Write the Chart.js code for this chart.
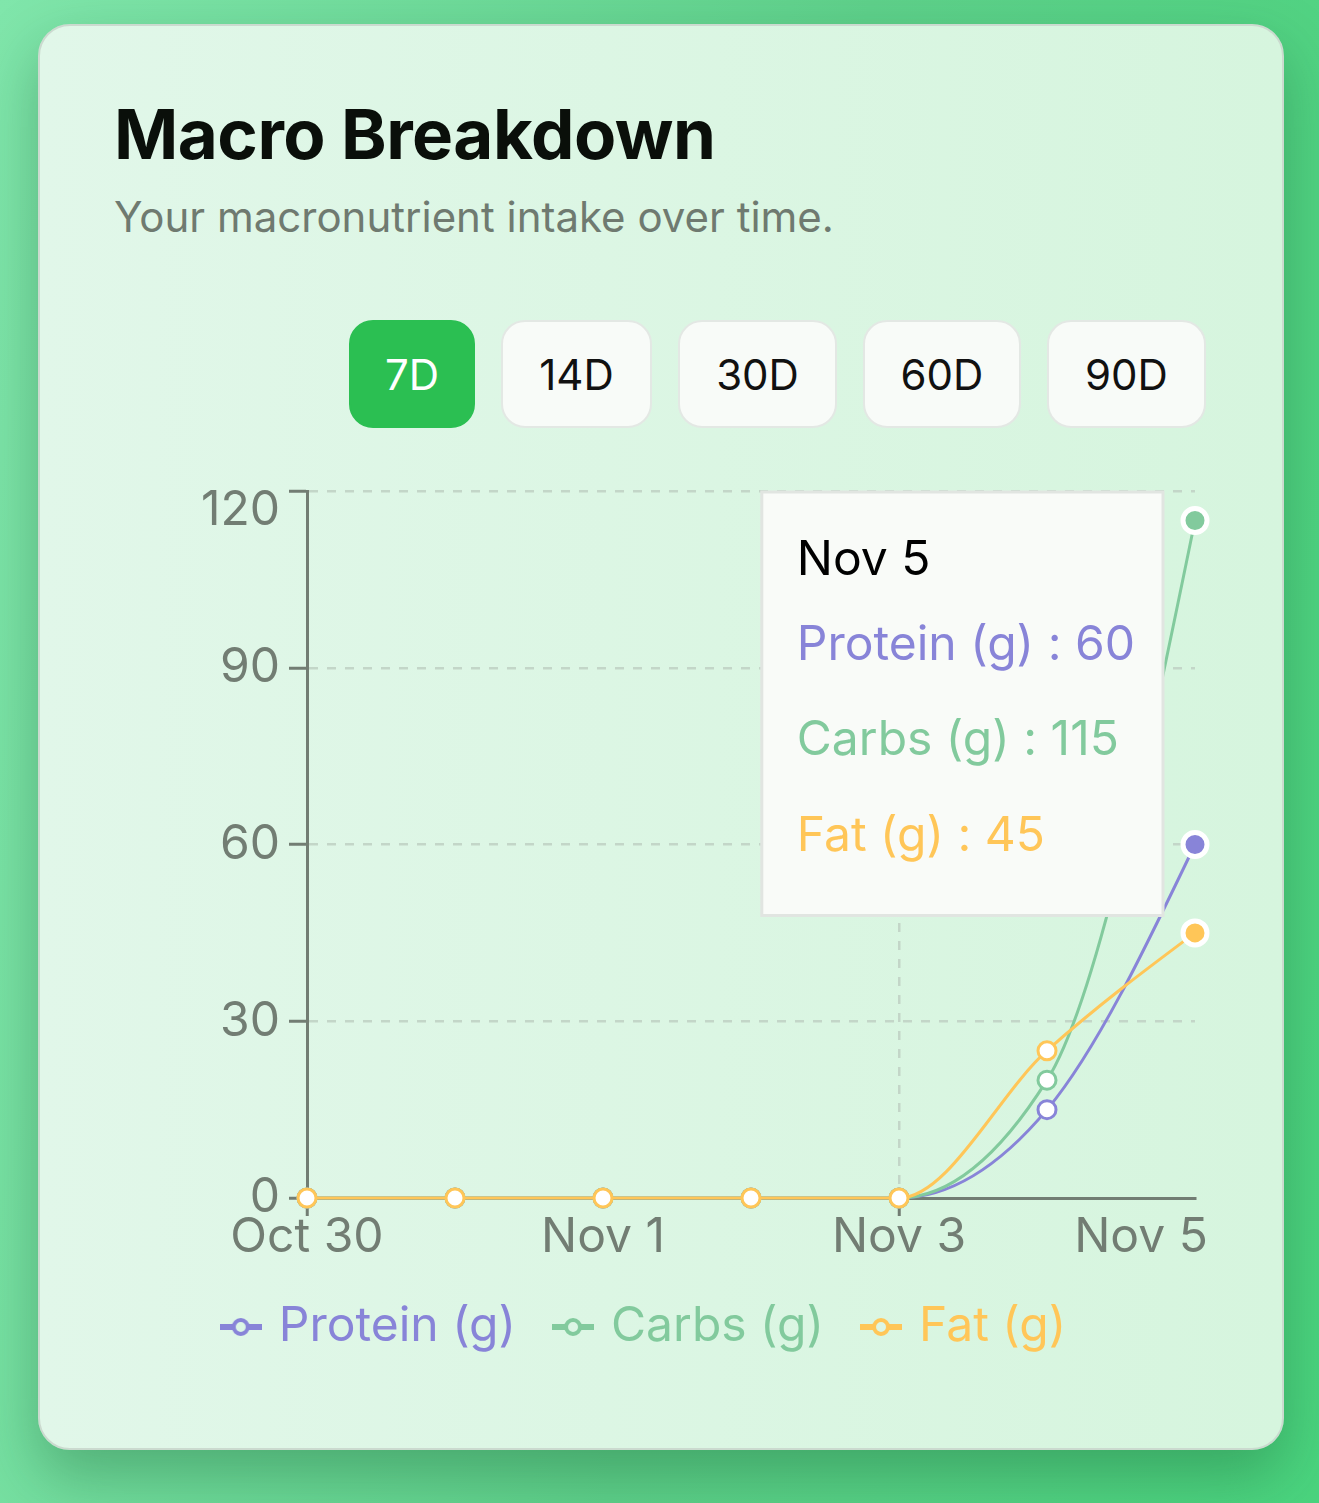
<!DOCTYPE html>
<html>
<head>
<meta charset="utf-8">
<title>Macro Breakdown</title>
<script src="https://cdn.jsdelivr.net/npm/chart.js@4.4.1/dist/chart.umd.min.js"></script>
<style>
  html, body { margin: 0; padding: 0; }
  body {
    width: 1319px; height: 1503px; position: relative; overflow: hidden;
    background: linear-gradient(100deg, #80e6ab 0%, #5fd18b 55%, #4ad47e 100%);
    font-family: Inter, 'Noto Sans', sans-serif;
  }
  .card {
    position: absolute; left: 38px; top: 24px; width: 1246px; height: 1426px;
    box-sizing: border-box; border: 2px solid #cbdacf; border-radius: 32px;
    background: linear-gradient(90deg, #e1f7e9 0%, #d6f5de 100%);
    box-shadow: 0 26px 60px rgba(20, 90, 45, 0.35);
  }
  h1 {
    position: absolute; left: 114px; top: 100px; margin: 0;
    font-size: 69px; line-height: 1; font-weight: 700; color: #0a0f0a; letter-spacing: -0.5px;
  }
  .sub {
    position: absolute; left: 114px; top: 196px; margin: 0;
    font-size: 42px; line-height: 1; color: #6f7a70;
  }
  .ranges { position: absolute; left: 349px; top: 320px; display: flex; gap: 26px; }
  .ranges button {
    height: 108px; box-sizing: border-box; border: 2px solid #e3e8e4; border-radius: 24px;
    background: #f8fbf8; color: #111; font-family: Inter, sans-serif; font-size: 42px; padding: 0;
  }
  .ranges button.on { background: #2bbf52; border-color: #2bbf52; color: #fff; }
  .plot { position: absolute; left: 0; top: 431px; width: 1319px; height: 930px; }
</style>
</head>
<body>
<div class="card"></div>
<h1>Macro Breakdown</h1>
<p class="sub">Your macronutrient intake over time.</p>
<div class="ranges" id="ranges"></div>
<div class="plot"><canvas id="macros" role="img" aria-label="Macro breakdown"></canvas></div>
<script>
const DATES = ['Oct 30', 'Oct 31', 'Nov 1', 'Nov 2', 'Nov 3', 'Nov 4', 'Nov 5'];
const PROTEIN = [0, 0, 0, 0, 0, 15, 60];
const CARBS = [0, 0, 0, 0, 0, 20, 115];
const FAT = [0, 0, 0, 0, 0, 25, 45];
const Y_TICKS = [0, 30, 60, 90, 120];
const RANGES = ['7D', '14D', '30D', '60D', '90D'];
const RANGE_WIDTHS = [126, 151, 159, 158, 159];

const AXIS = '#727d73';
const GRID = '#c3d6c8';
const LAST = DATES.length - 1;

// range buttons
const rangesEl = document.getElementById('ranges');
RANGES.forEach((r, i) => {
  const b = document.createElement('button');
  b.textContent = r;
  b.style.width = RANGE_WIDTHS[i] + 'px';
  if (i === 0) b.className = 'on';
  rangesEl.appendChild(b);
});

// legend symbol: short line with a hollow dot
function legendIcon(color) {
  const c = document.createElement('canvas');
  c.width = 42;
  c.height = 22;
  const g = c.getContext('2d');
  g.strokeStyle = color;
  g.lineWidth = 6;
  g.beginPath();
  g.moveTo(0, 11);
  g.lineTo(42, 11);
  g.stroke();
  g.beginPath();
  g.arc(21, 11, 7, 0, Math.PI * 2);
  g.fillStyle = '#dcf6e5';
  g.fill();
  g.lineWidth = 4;
  g.stroke();
  return c;
}

// same tangents as d3's curveMonotoneX, applied to the points chart.js already placed
const monotoneX = {
  id: 'monotoneX',
  beforeDatasetDraw(chart, args) {
    const line = args.meta.dataset;
    const pts = args.meta.data;
    const n = pts.length;
    if (!line || n < 3) return;
    const s = [];
    for (let i = 0; i < n - 1; i++) s.push((pts[i + 1].y - pts[i].y) / (pts[i + 1].x - pts[i].x));
    const t = new Array(n).fill(0);
    for (let i = 1; i < n - 1; i++) {
      const h0 = pts[i].x - pts[i - 1].x;
      const h1 = pts[i + 1].x - pts[i].x;
      const p = (s[i - 1] * h1 + s[i] * h0) / (h0 + h1);
      t[i] = (Math.sign(s[i - 1]) + Math.sign(s[i])) *
        Math.min(Math.abs(s[i - 1]), Math.abs(s[i]), 0.5 * Math.abs(p)) || 0;
    }
    t[0] = (3 * s[0] - t[1]) / 2;
    t[n - 1] = (3 * s[n - 2] - t[n - 2]) / 2;
    for (let i = 0; i < n; i++) {
      const pt = pts[i];
      const hPrev = i > 0 ? (pt.x - pts[i - 1].x) / 3 : 0;
      const hNext = i < n - 1 ? (pts[i + 1].x - pt.x) / 3 : 0;
      pt.cp1x = pt.x - hPrev;
      pt.cp1y = pt.y - t[i] * hPrev;
      pt.cp2x = pt.x + hNext;
      pt.cp2y = pt.y + t[i] * hNext;
    }
    line._pointsUpdated = true;
    line._path = undefined;
  },
};

function series(label, data, color, order) {
  return {
    label,
    data,
    order,
    borderColor: color,
    backgroundColor: color,
    borderWidth: 3,
    cubicInterpolationMode: 'monotone',
    clip: false,
    pointRadius: (c) => (c.dataIndex === LAST ? 12 : 9),
    pointBorderWidth: (c) => (c.dataIndex === LAST ? 5 : 3),
    pointBackgroundColor: (c) => (c.dataIndex === LAST ? color : '#ffffff'),
    pointBorderColor: (c) => (c.dataIndex === LAST ? '#ffffff' : color),
    pointHoverRadius: 12,
    pointHoverBorderWidth: 5,
    pointHoverBackgroundColor: color,
    pointHoverBorderColor: '#ffffff',
  };
}

const datasets = [
  series('Protein (g)', PROTEIN, '#8884d8', 2),
  series('Carbs (g)', CARBS, '#82ca9d', 1),
  series('Fat (g)', FAT, '#ffc658', 0),
];
const icons = datasets.map((d) => legendIcon(d.borderColor));

Chart.Tooltip.positioners.topLeftOfPoint = function (items) {
  if (!items.length) return false;
  return { x: items[0].element.x - 32, y: this.chart.chartArea.top + 1 };
};

const font = { family: 'Inter', size: 48 };

const chart = new Chart(document.getElementById('macros'), {
  type: 'line',
  data: { labels: DATES, datasets },
  plugins: [monotoneX],
  options: {
    responsive: true,
    maintainAspectRatio: false,
    animation: false,
    events: [],
    layout: { padding: { left: 98, right: 124, top: 60, bottom: 0 } },
    scales: {
      x: {
        grid: {
          color: (c) => (c.index % 2 ? 'transparent' : c.index === LAST ? '#c9ccc9' : GRID),
          lineWidth: (c) => (c.index === LAST ? 3 : 2.5),
          tickLength: 18,
          tickWidth: 3,
          tickColor: (c) => (c.index % 2 ? 'transparent' : AXIS),
        },
        border: {
          color: AXIS,
          width: 3,
          dash: (c) => (c.index === LAST ? [] : [9, 9]),
        },
        ticks: {
          autoSkip: false,
          maxRotation: 0,
          padding: 2,
          color: AXIS,
          font: { ...font, lineHeight: 40 / 48 },
          callback(v, i) {
            if (i % 2) return null;
            // last label is pushed left so it stays inside the card
            return i === LAST ? DATES[i] + '\u00a0'.repeat(8) : DATES[i];
          },
        },
      },
      y: {
        min: 0,
        max: 120,
        afterBuildTicks: (s) => { s.ticks = Y_TICKS.map((v) => ({ value: v })); },
        afterFit: (s) => { s.width = 209; },
        grid: { color: GRID, lineWidth: 2.5, tickLength: 18, tickWidth: 3, tickColor: AXIS },
        border: { color: AXIS, width: 3, dash: [9, 9] },
        ticks: {
          padding: 9,
          color: AXIS,
          font: { ...font, lineHeight: 40 / 48 },
          // top label sits a little below its tick
          callback: (v) => (v === Y_TICKS[Y_TICKS.length - 1] ? ['', String(v)] : String(v)),
        },
      },
    },
    plugins: {
      legend: {
        position: 'bottom',
        labels: {
          usePointStyle: true,
          pointStyleWidth: 28,
          padding: 43,
          font,
          sort: (a, b) => a.datasetIndex - b.datasetIndex,
          generateLabels(ch) {
            const items = Chart.defaults.plugins.legend.labels.generateLabels(ch);
            items.forEach((it) => {
              it.fontColor = ch.data.datasets[it.datasetIndex].borderColor;
              it.pointStyle = icons[it.datasetIndex];
            });
            return items;
          },
        },
      },
      tooltip: {
        enabled: true,
        animation: false,
        position: 'topLeftOfPoint',
        xAlign: 'right',
        yAlign: 'top',
        caretSize: 0,
        caretPadding: 0,
        cornerRadius: 0,
        displayColors: false,
        backgroundColor: '#f9fbf8',
        borderColor: '#e1e5e1',
        borderWidth: 3,
        titleColor: '#000000',
        titleFont: { ...font, weight: 'normal', lineHeight: 1.2 },
        bodyFont: { ...font, lineHeight: 1.2 },
        titleMarginBottom: 27,
        bodySpacing: 38,
        padding: { top: 40, bottom: 50, left: 35, right: 28 },
        callbacks: {
          label: (c) => `${c.dataset.label} : ${c.formattedValue}`,
          labelTextColor: (c) => c.dataset.borderColor,
        },
      },
    },
  },
});

// show the hover state for the last day, as in the screenshot
const active = datasets.map((_, i) => ({ datasetIndex: i, index: LAST }));
chart.setActiveElements(active);
chart.tooltip.setActiveElements(active, { x: 0, y: 0 });
chart.update();
</script>
</body>
</html>
